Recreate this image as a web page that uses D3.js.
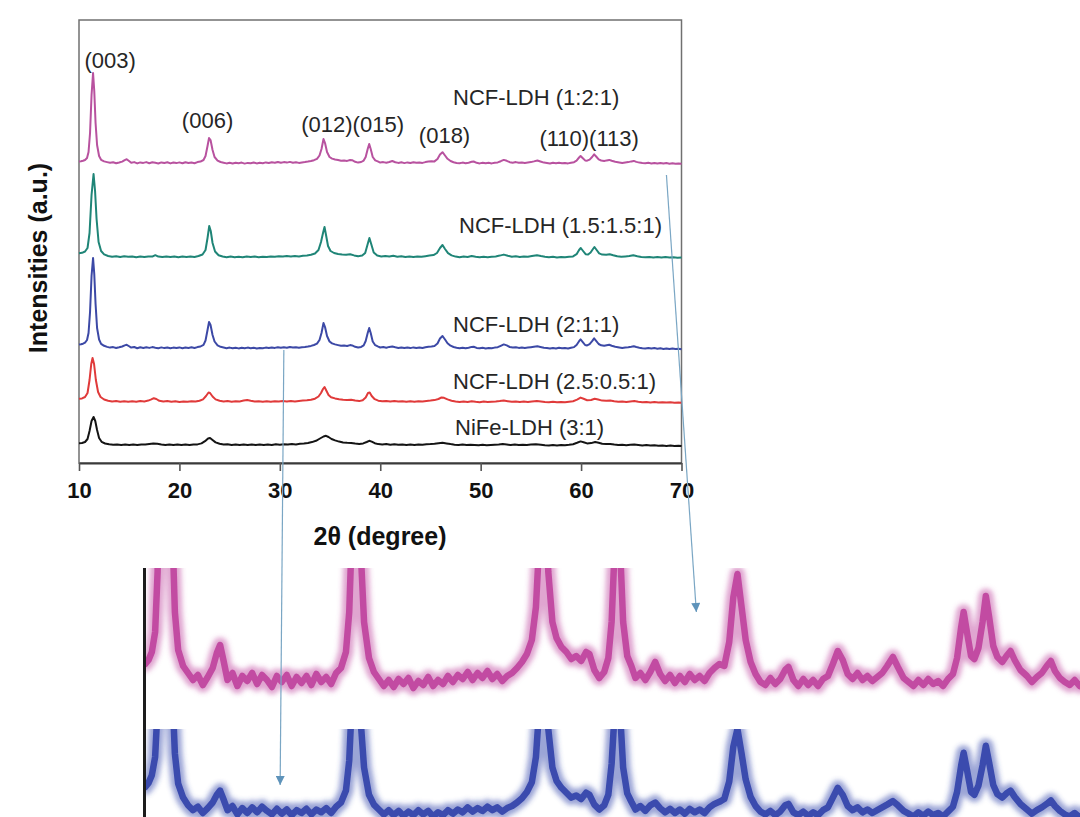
<!DOCTYPE html>
<html>
<head>
<meta charset="utf-8">
<script src="https://cdn.jsdelivr.net/npm/d3@7"></script>
<style>
  body { margin: 0; background: #fff; }
  svg { display: block; }
  text { font-family: "Liberation Sans", Arial, Helvetica, sans-serif; }
</style>
</head>
<body>
<svg id="chart"></svg>
<script>
// ---- data (2theta in degree, intensity in a.u.) ----
const xTicks = [10, 20, 30, 40, 50, 60, 70];

const seriesNames = ["NCF-LDH (1:2:1)", "NCF-LDH (1.5:1.5:1)", "NCF-LDH (2:1:1)", "NCF-LDH (2.5:0.5:1)", "NiFe-LDH (3:1)"];
const seriesOffsets = [300, 206, 115, 61, 18];   // vertical stacking of the patterns

const peakLabels = ["(003)", "(006)", "(012)(015)", "(018)", "(110)(113)"];

const pink = [
[10.0,1.6],[10.2,1.8],[10.4,2.2],[10.6,3.0],[10.8,5],[10.95,11],[11.1,30],[11.25,68],[11.4,90],[11.52,72],[11.65,40],[11.8,18],[12.0,7],[12.2,3.2],[12.5,1.6],[12.8,0.9],[13.1,0.2],[13.4,0.7],[13.7,-0.3],[14.0,0.5],[14.3,1.4],[14.55,2.9],[14.75,3.7],[14.95,2.2],[15.2,0.2],[15.5,0.9],[15.8,-0.4],[16.1,0.6],[16.4,0.1],[16.7,0.9],[17.0,-0.2],[17.3,0.7],[17.6,0.2],[17.9,-0.5],[18.2,0.6],[18.5,0.0],[18.8,0.7],[19.1,-0.4],[19.4,0.5],[19.7,-0.1],[20.0,0.6],[20.3,-0.3],[20.6,0.8],[20.9,0.0],[21.2,0.5],[21.5,-0.2],[21.8,0.9],[22.1,1.4],[22.4,3.0],[22.6,7],[22.8,17],[22.95,25],[23.1,23],[23.3,13],[23.5,6],[23.8,2.4],[24.1,1.0],[24.4,0.3],[24.7,-0.4],[25.0,0.2],[25.3,-0.5],[25.6,0.3],[25.9,-0.2],[26.2,0.4],[26.5,-0.6],[26.8,0.1],[27.1,-0.3],[27.4,0.5],[27.7,-0.4],[28.0,0.2],[28.3,-0.2],[28.6,0.6],[28.9,0.0],[29.2,0.7],[29.5,0.3],[29.8,1.0],[30.1,0.2],[30.4,0.9],[30.7,0.4],[31.0,1.1],[31.3,0.3],[31.6,0.8],[31.9,0.1],[32.2,0.6],[32.5,0.9],[32.8,1.4],[33.1,2.0],[33.4,2.8],[33.7,4.2],[33.95,7.5],[34.15,14],[34.35,24],[34.5,20],[34.7,11],[34.95,6],[35.2,4.4],[35.5,3.5],[35.8,3.0],[36.1,2.3],[36.4,2.6],[36.7,2.1],[37.0,3.0],[37.2,2.8],[37.5,1.2],[37.8,0.4],[38.1,1.0],[38.35,2.4],[38.55,6],[38.75,14],[38.9,19],[39.05,14],[39.25,6],[39.5,2.6],[39.75,1.6],[40.0,0.4],[40.3,0.9],[40.6,0.2],[40.9,1.0],[41.2,2.0],[41.5,0.8],[41.8,0.1],[42.1,0.7],[42.4,-0.1],[42.7,0.6],[43.0,0.0],[43.3,0.8],[43.6,0.2],[43.9,0.6],[44.2,0.1],[44.5,0.9],[44.8,1.4],[45.1,1.8],[45.4,1.6],[45.7,4.0],[45.95,8.5],[46.2,10.8],[46.45,7.5],[46.7,4.2],[47.0,2.0],[47.3,0.8],[47.6,0.0],[47.9,-0.3],[48.2,0.4],[48.5,-0.2],[48.8,0.3],[49.1,1.2],[49.3,1.5],[49.6,0.2],[49.9,-0.4],[50.2,0.3],[50.5,-0.3],[50.8,0.2],[51.1,-0.4],[51.4,0.3],[51.7,0.6],[52.0,1.8],[52.3,3.1],[52.6,2.2],[52.9,0.8],[53.2,0.3],[53.5,0.9],[53.8,0.2],[54.1,0.6],[54.4,0.1],[54.7,0.5],[55.0,0.9],[55.3,1.6],[55.65,2.5],[55.95,1.5],[56.3,0.4],[56.6,0.0],[56.9,-0.4],[57.2,0.2],[57.5,-0.3],[57.8,0.3],[58.1,-0.2],[58.4,0.1],[58.7,-0.4],[59.0,0.3],[59.3,0.8],[59.55,2.4],[59.8,5.5],[59.95,7.0],[60.15,5.0],[60.4,2.6],[60.6,2.3],[60.85,3.4],[61.1,6.0],[61.3,8.6],[61.5,6.5],[61.75,3.6],[62.0,2.5],[62.3,2.0],[62.55,2.6],[62.8,3.1],[63.05,2.2],[63.4,1.2],[63.8,0.6],[64.1,0.0],[64.4,0.5],[64.7,0.9],[65.0,1.6],[65.25,2.1],[65.5,1.1],[65.8,0.4],[66.1,0.0],[66.4,-0.3],[66.7,0.2],[67.0,-0.4],[67.3,0.1],[67.6,-0.5],[67.9,0.0],[68.2,-0.6],[68.5,-0.1],[68.8,-0.7],[69.1,-0.3],[69.4,-0.8],[69.7,-0.4],[70.0,-0.7]
];

const teal = [
[10.0,3.8],[10.3,4.2],[10.6,5.5],[10.85,9],[11.05,24],[11.25,62],[11.45,83],[11.6,66],[11.75,38],[11.95,15],[12.2,6],[12.5,2.6],[12.9,1.0],[13.3,0.2],[13.7,0.8],[14.1,0.0],[14.5,0.7],[14.9,0.2],[15.3,0.6],[15.7,-0.2],[16.1,0.5],[16.5,0.0],[16.9,0.6],[17.3,0.4],[17.6,1.8],[17.9,0.4],[18.3,-0.1],[18.7,0.5],[19.1,0.0],[19.5,0.6],[19.9,-0.2],[20.3,0.4],[20.7,0.1],[21.1,0.6],[21.5,0.0],[21.9,1.0],[22.3,2.5],[22.6,7],[22.8,19],[22.97,31],[23.12,26],[23.3,14],[23.55,5.5],[23.9,1.8],[24.3,0.5],[24.7,-0.2],[25.1,0.4],[25.5,-0.3],[25.9,0.3],[26.3,-0.2],[26.7,0.5],[27.1,0.0],[27.5,0.4],[27.9,-0.3],[28.3,0.3],[28.7,0.0],[29.1,0.6],[29.5,0.2],[29.9,0.8],[30.3,0.4],[30.7,1.0],[31.1,0.5],[31.5,0.9],[31.9,0.5],[32.3,1.2],[32.7,1.5],[33.1,2.2],[33.5,3.5],[33.85,7],[34.1,15],[34.3,24],[34.45,30],[34.6,22],[34.8,11],[35.05,6],[35.4,4.0],[35.8,3.0],[36.2,2.4],[36.6,2.2],[37.0,2.8],[37.4,1.6],[37.8,0.8],[38.2,1.4],[38.5,4],[38.75,13],[38.92,19],[39.1,13],[39.35,4.5],[39.7,1.5],[40.1,0.6],[40.5,1.0],[40.9,0.4],[41.3,1.2],[41.7,0.3],[42.1,0.7],[42.5,0.1],[42.9,0.6],[43.3,0.0],[43.7,0.5],[44.1,0.2],[44.5,0.8],[44.9,1.4],[45.3,1.9],[45.65,4],[45.95,9],[46.2,12],[46.45,8],[46.75,3.8],[47.1,1.6],[47.5,0.4],[47.9,-0.2],[48.3,0.4],[48.7,0.0],[49.1,1.0],[49.5,0.2],[49.9,-0.3],[50.3,0.3],[50.7,-0.2],[51.1,0.3],[51.5,0.5],[51.9,1.4],[52.3,2.4],[52.7,1.3],[53.1,0.3],[53.5,0.7],[53.9,0.1],[54.3,0.5],[54.7,0.2],[55.1,0.9],[55.6,1.8],[56.0,0.9],[56.4,0.2],[56.8,-0.3],[57.2,0.2],[57.6,-0.4],[58.0,0.1],[58.4,-0.3],[58.8,0.2],[59.2,0.6],[59.55,2.8],[59.8,7],[59.97,9],[60.2,6],[60.45,2.8],[60.7,2.5],[60.95,4.5],[61.15,7.5],[61.33,10],[61.55,7],[61.8,3.6],[62.1,2.4],[62.5,2.2],[62.85,2.8],[63.2,1.8],[63.6,0.8],[64.0,0.2],[64.4,0.6],[64.8,1.0],[65.2,1.8],[65.6,0.8],[66.0,0.1],[66.4,-0.3],[66.8,0.1],[67.2,-0.4],[67.6,0.0],[68.0,-0.5],[68.4,-0.1],[68.8,-0.6],[69.2,-0.3],[69.6,-0.7],[70.0,-0.6]
];

const blue = [
[10.0,3.4],[10.2,3.7],[10.4,4.3],[10.6,5.4],[10.8,8],[10.95,15],[11.1,36],[11.25,72],[11.4,90],[11.52,74],[11.65,44],[11.8,20],[12.0,8.5],[12.2,4.2],[12.5,2.2],[12.8,1.1],[13.1,0.4],[13.4,0.9],[13.7,0.0],[14.0,0.7],[14.3,1.5],[14.55,2.6],[14.75,3.2],[14.95,2.0],[15.2,0.4],[15.5,1.0],[15.8,-0.2],[16.1,0.7],[16.4,0.0],[16.7,0.8],[17.0,0.1],[17.3,0.9],[17.6,0.3],[17.9,-0.2],[18.2,0.6],[18.5,-0.1],[18.8,0.5],[19.1,-0.3],[19.4,0.4],[19.7,0.0],[20.0,0.6],[20.3,-0.2],[20.6,0.5],[20.9,0.1],[21.2,0.7],[21.5,0.0],[21.8,0.9],[22.1,1.5],[22.4,3.2],[22.6,7.5],[22.8,18],[22.95,26],[23.1,23],[23.3,13],[23.5,6.5],[23.8,2.6],[24.1,1.2],[24.4,0.5],[24.7,-0.2],[25.0,0.4],[25.3,-0.3],[25.6,0.3],[25.9,-0.4],[26.2,0.2],[26.5,-0.3],[26.8,0.4],[27.1,-0.2],[27.4,0.3],[27.7,-0.5],[28.0,0.1],[28.3,-0.3],[28.6,0.4],[28.9,-0.1],[29.2,0.5],[29.5,0.1],[29.8,0.8],[30.1,0.2],[30.4,0.7],[30.7,0.3],[31.0,0.9],[31.3,0.4],[31.6,0.8],[31.9,0.2],[32.2,0.7],[32.5,1.0],[32.8,1.5],[33.1,2.1],[33.4,3.0],[33.7,4.4],[33.95,8],[34.15,15],[34.35,25],[34.5,21],[34.7,12],[34.95,6.5],[35.2,4.6],[35.5,3.6],[35.8,2.9],[36.1,2.2],[36.4,2.5],[36.7,2.0],[37.0,2.9],[37.2,2.6],[37.5,1.2],[37.8,0.5],[38.1,1.1],[38.35,2.6],[38.55,7],[38.75,15],[38.9,20],[39.05,15],[39.25,6.5],[39.5,2.8],[39.75,1.6],[40.0,0.5],[40.3,1.0],[40.6,0.3],[40.9,1.1],[41.2,1.5],[41.5,0.7],[41.8,0.1],[42.1,0.6],[42.4,0.0],[42.7,0.5],[43.0,-0.1],[43.3,0.6],[43.6,0.1],[43.9,0.5],[44.2,0.0],[44.5,0.8],[44.8,1.3],[45.1,1.6],[45.4,2.0],[45.7,4.5],[45.95,9.5],[46.2,12],[46.45,8.5],[46.7,4.8],[47.0,2.3],[47.3,1.0],[47.6,0.2],[47.9,-0.2],[48.2,0.3],[48.5,-0.3],[48.8,0.2],[49.1,1.1],[49.3,1.3],[49.6,0.1],[49.9,-0.3],[50.2,0.2],[50.5,-0.4],[50.8,0.1],[51.1,-0.3],[51.4,0.4],[51.7,0.8],[52.0,2.2],[52.3,3.6],[52.6,2.6],[52.9,1.0],[53.2,0.4],[53.5,0.8],[53.8,0.1],[54.1,0.5],[54.4,0.0],[54.7,0.4],[55.0,0.8],[55.3,1.2],[55.65,1.7],[55.95,1.1],[56.3,0.3],[56.6,-0.1],[56.9,-0.5],[57.2,0.1],[57.5,-0.4],[57.8,0.2],[58.1,-0.3],[58.4,0.0],[58.7,-0.5],[59.0,0.2],[59.3,0.9],[59.55,3.0],[59.8,6.8],[59.95,8.6],[60.15,6.2],[60.4,3.0],[60.6,2.6],[60.85,3.9],[61.1,6.8],[61.3,9.6],[61.5,7.2],[61.75,4.0],[62.0,2.7],[62.3,2.2],[62.55,2.8],[62.8,3.2],[63.05,2.3],[63.4,1.3],[63.8,0.5],[64.1,-0.1],[64.4,0.4],[64.7,0.8],[65.0,1.3],[65.25,1.8],[65.5,1.0],[65.8,0.3],[66.1,-0.2],[66.4,-0.5],[66.7,0.0],[67.0,-0.6],[67.3,-0.1],[67.6,-0.7],[67.9,-0.3],[68.2,-0.9],[68.5,-0.4],[68.8,-1.0],[69.1,-0.6],[69.4,-1.1],[69.7,-0.8],[70.0,-1.2]
];

const red = [
[10.0,3.2],[10.3,3.6],[10.6,5],[10.85,9],[11.05,22],[11.22,38],[11.35,44],[11.5,38],[11.68,22],[11.9,10],[12.15,5],[12.5,2.5],[12.9,1.2],[13.3,0.4],[13.7,0.9],[14.1,0.3],[14.5,0.8],[14.9,0.2],[15.3,0.7],[15.7,0.3],[16.1,0.9],[16.5,0.6],[16.9,1.4],[17.2,2.6],[17.45,3.8],[17.7,3.0],[18.0,1.2],[18.4,0.5],[18.8,0.9],[19.2,0.2],[19.6,0.7],[20.0,0.1],[20.4,0.6],[20.8,0.2],[21.2,0.8],[21.6,0.4],[22.0,1.2],[22.35,2.6],[22.65,6],[22.9,9.5],[23.05,9],[23.3,5.5],[23.6,2.6],[24.0,1.2],[24.4,0.5],[24.8,0.9],[25.2,0.3],[25.6,0.8],[26.0,0.6],[26.4,1.4],[26.75,2.0],[27.1,1.2],[27.5,0.4],[27.9,0.8],[28.3,0.2],[28.7,0.7],[29.1,0.3],[29.5,0.8],[29.9,0.4],[30.3,0.9],[30.7,0.5],[31.1,1.0],[31.5,0.6],[31.9,1.1],[32.3,1.4],[32.7,1.7],[33.1,2.3],[33.5,3.3],[33.85,5.5],[34.1,9],[34.3,13],[34.45,15],[34.6,12],[34.85,7],[35.1,4.8],[35.5,3.6],[35.9,2.8],[36.3,2.3],[36.7,2.0],[37.1,2.2],[37.5,1.4],[37.9,0.9],[38.25,1.8],[38.55,4.5],[38.78,9],[38.95,9.5],[39.15,6],[39.45,2.8],[39.8,1.3],[40.2,0.7],[40.6,1.1],[41.0,0.5],[41.4,1.0],[41.8,0.4],[42.2,0.8],[42.6,0.2],[43.0,0.7],[43.4,0.3],[43.8,0.8],[44.2,0.4],[44.6,1.0],[45.0,1.4],[45.4,1.9],[45.8,3.0],[46.1,4.6],[46.35,4.2],[46.7,2.6],[47.1,1.3],[47.5,0.5],[47.9,0.1],[48.3,0.6],[48.7,0.1],[49.1,0.8],[49.5,0.2],[49.9,-0.2],[50.3,0.4],[50.7,-0.1],[51.1,0.3],[51.5,0.5],[51.9,0.9],[52.3,1.4],[52.7,0.8],[53.1,0.2],[53.5,0.6],[53.9,0.0],[54.3,0.4],[54.7,0.1],[55.1,0.6],[55.6,1.0],[56.0,0.5],[56.4,0.0],[56.8,-0.3],[57.2,0.2],[57.6,-0.3],[58.0,0.1],[58.4,-0.2],[58.8,0.3],[59.2,0.8],[59.6,2.4],[59.95,4.4],[60.25,3.2],[60.6,1.8],[61.0,2.0],[61.35,3.2],[61.7,2.4],[62.1,1.4],[62.5,1.2],[62.9,1.4],[63.3,0.7],[63.7,0.2],[64.1,0.5],[64.5,0.0],[64.9,0.6],[65.3,0.9],[65.7,0.3],[66.1,-0.2],[66.5,0.1],[66.9,-0.4],[67.3,0.0],[67.7,-0.5],[68.1,-0.2],[68.5,-0.6],[68.9,-0.3],[69.3,-0.8],[69.7,-0.5],[70.0,-0.8]
];

const black = [
[10.0,1.8],[10.3,2.0],[10.6,3.0],[10.85,6],[11.05,14],[11.25,24],[11.45,28],[11.62,24],[11.8,15],[12.0,7],[12.25,3.2],[12.6,1.5],[13.0,0.7],[13.4,0.2],[13.8,0.6],[14.2,0.1],[14.6,0.5],[15.0,0.0],[15.4,0.5],[15.8,0.1],[16.2,0.6],[16.6,0.4],[17.0,1.0],[17.4,1.6],[17.8,1.3],[18.2,0.5],[18.6,0.1],[19.0,0.6],[19.4,0.0],[19.8,0.5],[20.2,-0.1],[20.6,0.4],[21.0,0.0],[21.4,0.6],[21.8,0.6],[22.2,1.6],[22.55,3.8],[22.85,6.5],[23.05,7],[23.3,5],[23.6,2.6],[24.0,1.2],[24.4,0.4],[24.8,0.8],[25.2,0.1],[25.6,0.6],[26.0,0.0],[26.4,0.5],[26.8,0.1],[27.2,0.6],[27.6,0.0],[28.0,0.5],[28.4,0.0],[28.8,0.6],[29.2,0.1],[29.6,0.7],[30.0,0.2],[30.4,0.8],[30.8,0.4],[31.2,0.9],[31.6,0.6],[32.0,1.2],[32.4,1.5],[32.8,2.1],[33.2,2.9],[33.6,4.2],[34.0,6.5],[34.35,8.5],[34.6,9.2],[34.85,8],[35.15,6],[35.5,4.6],[35.9,3.4],[36.3,2.6],[36.7,2.2],[37.1,2.0],[37.5,1.4],[37.9,1.0],[38.3,1.6],[38.65,3.0],[38.9,4.2],[39.15,3.4],[39.45,1.8],[39.8,0.9],[40.2,0.5],[40.6,0.9],[41.0,0.3],[41.4,0.8],[41.8,0.2],[42.2,0.6],[42.6,0.1],[43.0,0.5],[43.4,0.0],[43.8,0.6],[44.2,0.2],[44.6,0.7],[45.0,0.9],[45.4,1.3],[45.8,1.8],[46.2,2.3],[46.6,1.6],[47.0,0.9],[47.4,0.3],[47.8,-0.1],[48.2,0.4],[48.6,-0.1],[49.0,0.3],[49.4,0.1],[49.8,-0.3],[50.2,0.2],[50.6,-0.3],[51.0,0.1],[51.4,0.3],[51.8,0.5],[52.2,0.9],[52.6,0.5],[53.0,0.0],[53.4,0.4],[53.8,-0.1],[54.2,0.3],[54.6,0.0],[55.0,0.4],[55.5,0.8],[56.0,0.3],[56.4,-0.2],[56.8,-0.4],[57.2,0.0],[57.6,-0.4],[58.0,0.0],[58.4,-0.3],[58.8,0.2],[59.2,0.8],[59.6,2.2],[59.95,3.6],[60.25,2.8],[60.6,1.6],[61.0,1.9],[61.4,3.0],[61.75,2.2],[62.1,1.2],[62.5,0.9],[62.9,1.1],[63.3,0.4],[63.7,-0.1],[64.1,0.3],[64.5,-0.2],[64.9,0.3],[65.3,0.6],[65.7,0.1],[66.1,-0.4],[66.5,-0.1],[66.9,-0.6],[67.3,-0.3],[67.7,-0.8],[68.1,-0.5],[68.5,-0.9],[68.9,-0.6],[69.3,-1.1],[69.7,-0.8],[70.0,-1.1]
];

// ---- layout ----
const W = 1080, H = 817;
const plot = { left: 79, right: 681.5, top: 20, bottom: 463 };
const colors = ["#b8529f", "#1f8577", "#3c49a6", "#e03a3a", "#141414"];
const seriesData = [pink, teal, blue, red, black];

const svg = d3.select("#chart").attr("width", W).attr("height", H);
const defs = svg.append("defs");

const x = d3.scaleLinear().domain([10, 70]).range([plot.left, plot.right]);
const y = d3.scaleLinear().domain([0, 443]).range([plot.bottom, plot.top]);

// frame
svg.append("rect")
    .attr("x", plot.left).attr("y", plot.top)
    .attr("width", plot.right - plot.left).attr("height", plot.bottom - plot.top)
    .attr("fill", "none").attr("stroke", "#707070").attr("stroke-width", 1.5);

// x axis
const xAxis = svg.append("g")
    .attr("transform", `translate(0,${plot.bottom})`)
    .call(d3.axisBottom(x).tickValues(xTicks).tickSize(8).tickPadding(11).tickSizeOuter(0));
xAxis.select(".domain").attr("stroke", "#3a3a3a").attr("stroke-width", 2.2);
xAxis.selectAll(".tick line").attr("stroke", "#555").attr("stroke-width", 1.6);
xAxis.selectAll(".tick text")
    .attr("fill", "#111")
    .style("font-size", "22px").style("font-weight", "bold")
    .style("font-family", '"Liberation Sans", Arial, sans-serif');

// traces
seriesData.forEach((data, i) => {
    const line = d3.line()
        .x(d => x(d[0]))
        .y(d => y(d[1] + seriesOffsets[i]));
    svg.append("path")
        .datum(data)
        .attr("d", line)
        .attr("fill", "none")
        .attr("stroke", colors[i])
        .attr("stroke-width", 2)
        .attr("stroke-linejoin", "round");
});

// series labels (start 2theta, intensity of baseline)
const seriesLabelPos = [[47.25, 358], [47.85, 230], [47.25, 131], [47.25, 74], [47.45, 28]];
svg.selectAll(".slabel")
    .data(seriesNames)
    .enter()
    .append("text")
    .attr("x", (d, i) => x(seriesLabelPos[i][0]))
    .attr("y", (d, i) => y(seriesLabelPos[i][1]))
    .attr("fill", "#262626")
    .style("font-size", "22px")
    .text(d => d);

// peak labels (centre 2theta, intensity of baseline)
const peakLabelPos = [[13.1, 395], [22.8, 335], [37.25, 331.5], [46.4, 320], [60.8, 317]];
svg.selectAll(".plabel")
    .data(peakLabels)
    .enter()
    .append("text")
    .attr("x", (d, i) => x(peakLabelPos[i][0]))
    .attr("y", (d, i) => y(peakLabelPos[i][1]))
    .attr("text-anchor", "middle")
    .attr("fill", "#262626")
    .style("font-size", "22px")
    .text(d => d);

// axis titles
svg.append("text")
    .attr("x", 380).attr("y", 545)
    .attr("text-anchor", "middle")
    .style("font-size", "25px").style("font-weight", "bold")
    .attr("fill", "#111")
    .text("2θ (degree)");

svg.append("text")
    .attr("transform", "translate(47,258) rotate(-90)")
    .attr("text-anchor", "middle")
    .style("font-size", "25px").style("font-weight", "bold")
    .attr("fill", "#111")
    .text("Intensities (a.u.)");

// ---- magnified view of the (1:2:1) and (2:1:1) baselines ----
const inset = { left: 145, right: 1080, pinkTop: 568, pinkBottom: 724, blueTop: 729, blueBottom: 817 };
const xi = d3.scaleLinear().domain([10, 70]).range([141.97, 1128.97]);
const yiPink = d3.scaleLinear().domain([0, 1]).range([682, 672]);
const yiBlue = d3.scaleLinear().domain([0, 1]).range([813, 806]);

defs.append("clipPath").attr("id", "clipPink").append("rect")
    .attr("x", inset.left).attr("y", inset.pinkTop)
    .attr("width", inset.right - inset.left).attr("height", inset.pinkBottom - inset.pinkTop);
defs.append("clipPath").attr("id", "clipBlue").append("rect")
    .attr("x", inset.left).attr("y", inset.blueTop)
    .attr("width", inset.right - inset.left).attr("height", inset.blueBottom - inset.blueTop);

defs.append("filter").attr("id", "soft").attr("x", "-5%").attr("y", "-20%").attr("width", "110%").attr("height", "140%")
    .append("feGaussianBlur").attr("stdDeviation", 2.6);
defs.append("filter").attr("id", "softCore")
    .append("feGaussianBlur").attr("stdDeviation", 0.7);

const insetPanels = [
    { data: pink, yScale: yiPink, clip: "clipPink", color: "#c24ca2" },
    { data: blue, yScale: yiBlue, clip: "clipBlue", color: "#3a4bae" }
];
insetPanels.forEach(p => {
    const line = d3.line().x(d => xi(d[0])).y(d => p.yScale(d[1]));
    const g = svg.append("g").attr("clip-path", `url(#${p.clip})`);
    g.append("path").datum(p.data).attr("d", line)
        .attr("fill", "none").attr("stroke", p.color)
        .attr("stroke-width", 15).attr("stroke-opacity", 0.5)
        .attr("stroke-linejoin", "round")
        .attr("filter", "url(#soft)");
    g.append("path").datum(p.data).attr("d", line)
        .attr("fill", "none").attr("stroke", p.color)
        .attr("stroke-width", 6.5)
        .attr("stroke-linejoin", "round")
        .attr("filter", "url(#softCore)");
});

svg.append("line")
    .attr("x1", 144.5).attr("x2", 144.5)
    .attr("y1", inset.pinkTop).attr("y2", H)
    .attr("stroke", "#1c1c1c").attr("stroke-width", 3);

// arrows from the patterns to the magnified view
defs.append("marker")
    .attr("id", "arrowhead")
    .attr("markerUnits", "userSpaceOnUse")
    .attr("viewBox", "0 0 10 10")
    .attr("refX", 10).attr("refY", 5)
    .attr("markerWidth", 10).attr("markerHeight", 9)
    .attr("orient", "auto")
    .append("path").attr("d", "M0,0 L10,5 L0,10 Z").attr("fill", "#5e93ba");

const arrows = [
    { from: [x(68.5), y(288)], to: [xi(43.7), yiPink(7)] },
    { from: [x(30.4), y(113)], to: [xi(18.4), yiBlue(4)] }
];
svg.selectAll(".arrow")
    .data(arrows)
    .enter()
    .append("line")
    .attr("x1", d => d.from[0]).attr("y1", d => d.from[1])
    .attr("x2", d => d.to[0]).attr("y2", d => d.to[1])
    .attr("stroke", "#7aa6c4").attr("stroke-width", 1.2)
    .attr("marker-end", "url(#arrowhead)");
</script>
</body>
</html>
